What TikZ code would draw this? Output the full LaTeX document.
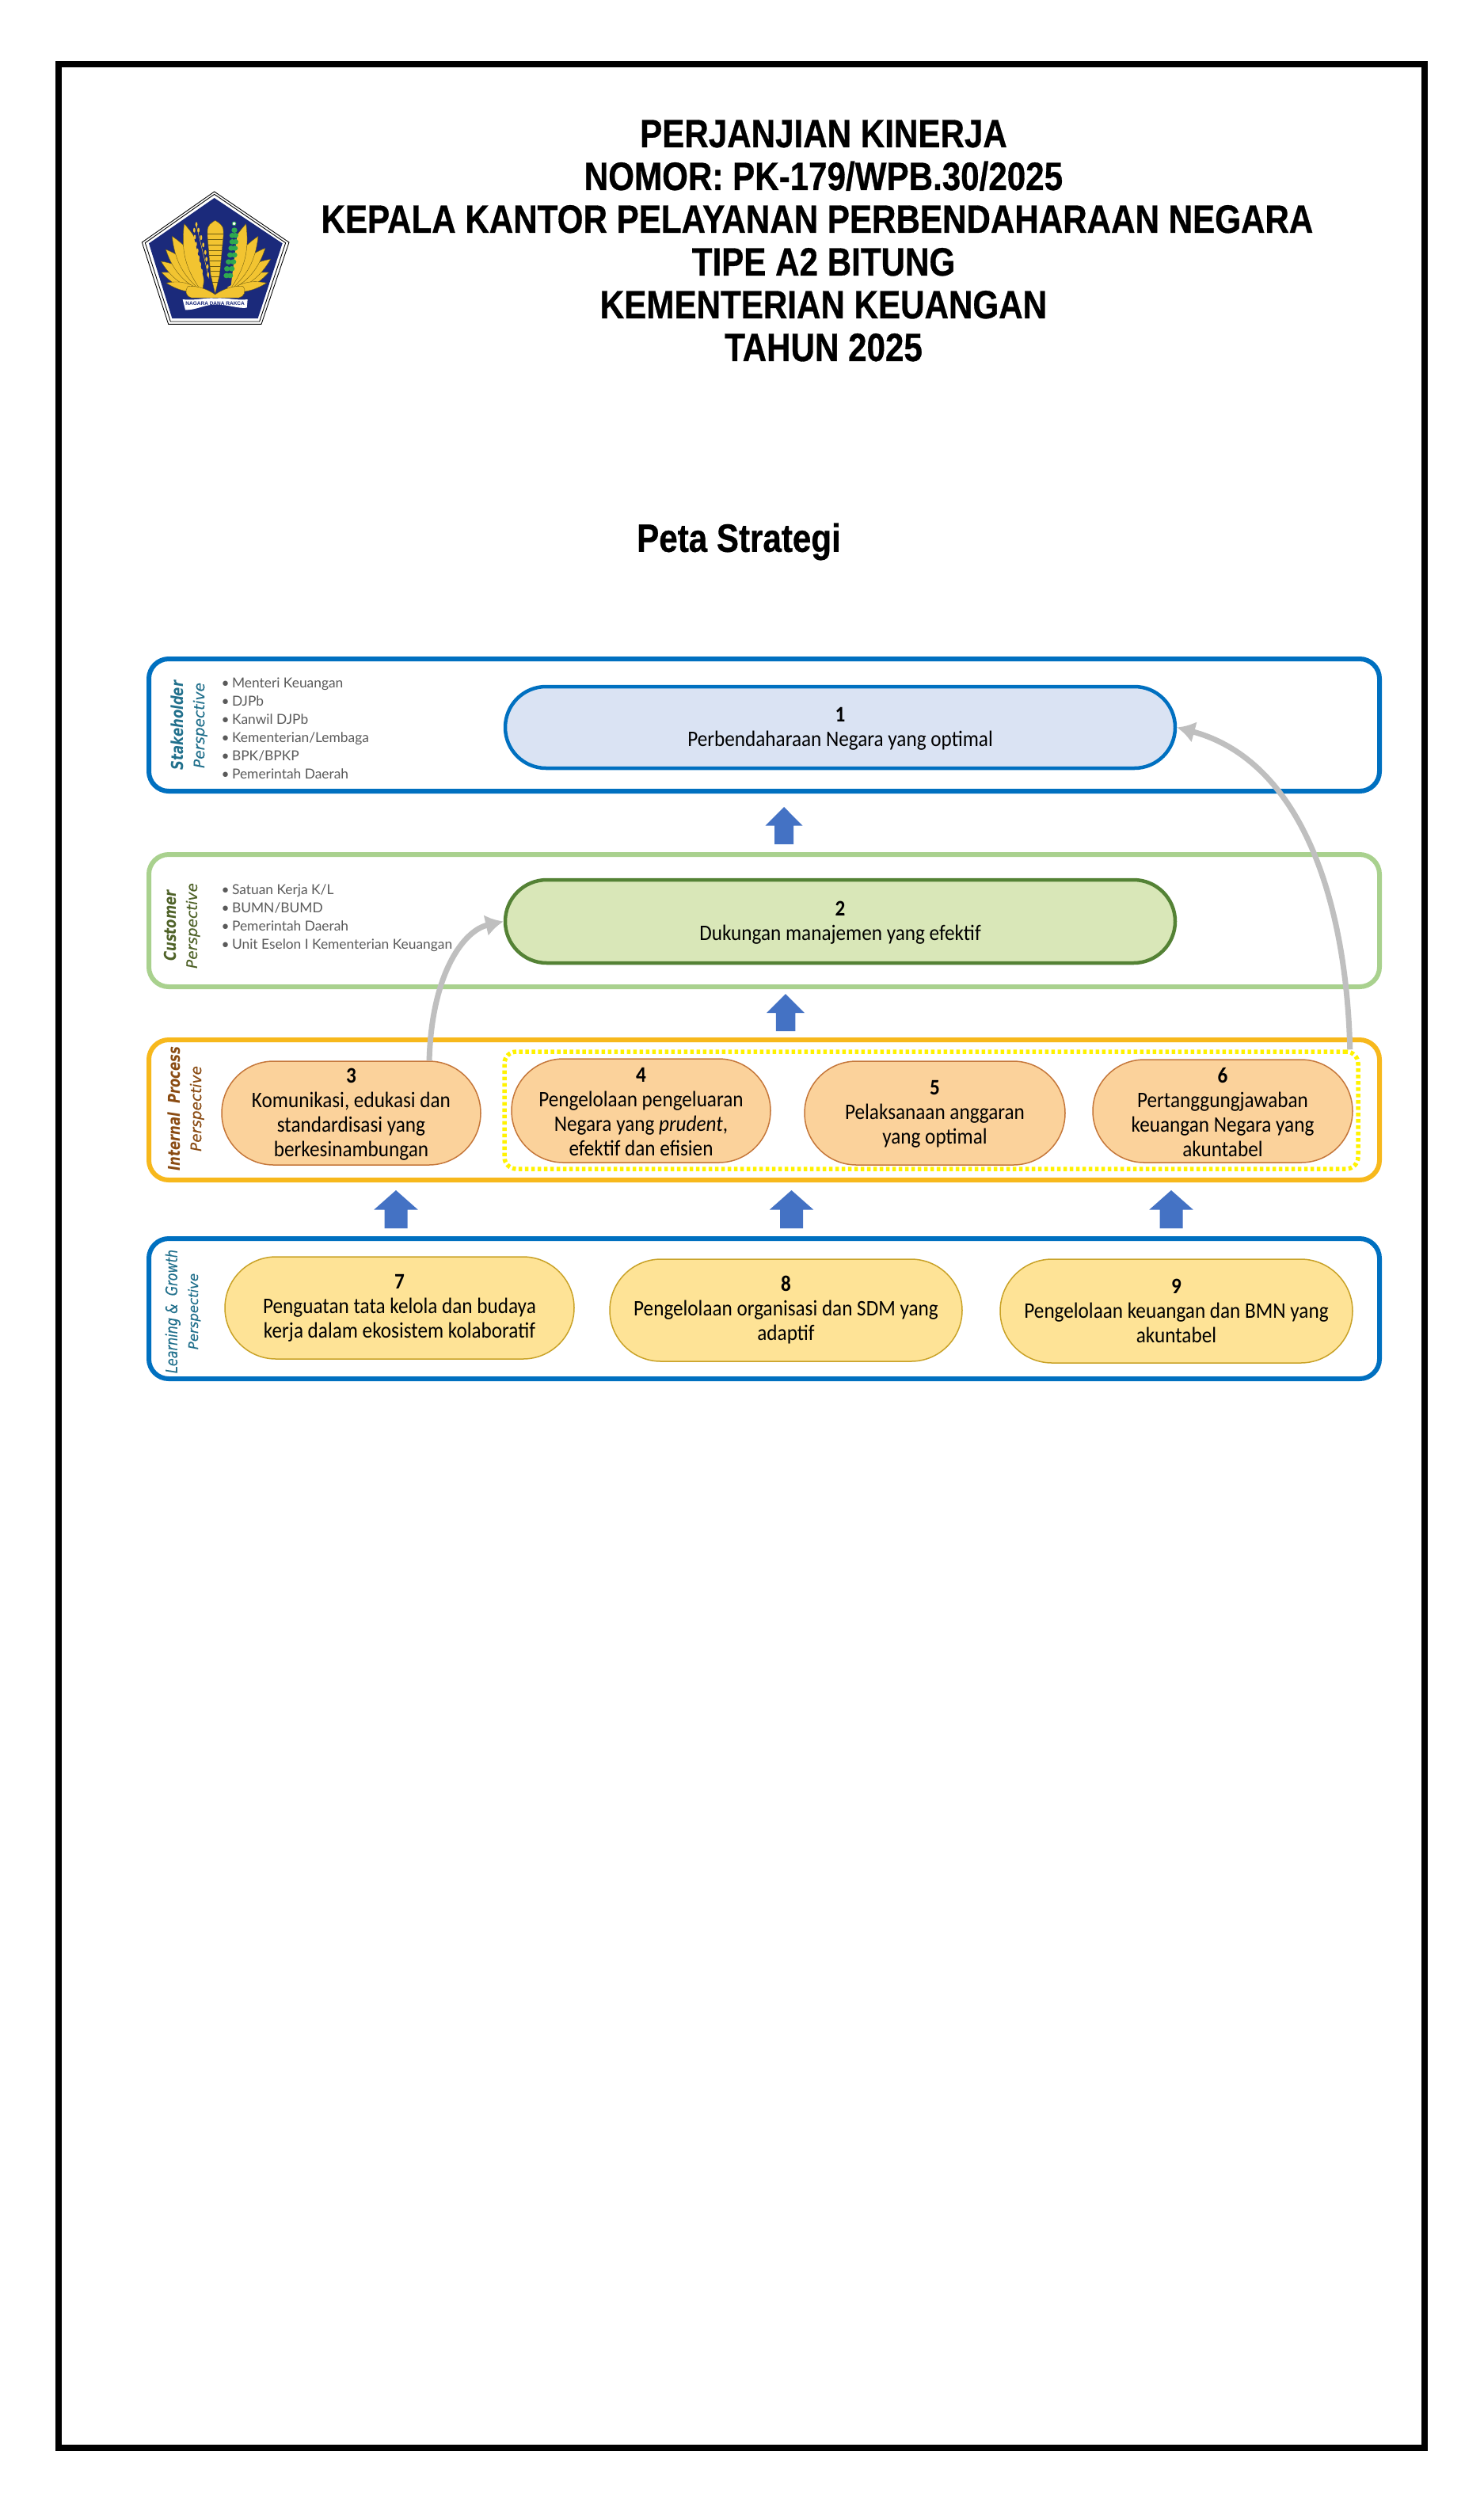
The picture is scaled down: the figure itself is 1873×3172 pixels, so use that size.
\documentclass[tikz,border=0pt]{standalone}
\usepackage{fontspec}
\setmainfont{Liberation Sans}
\newfontfamily\titlefont[FakeStretch=0.843,FakeBold=0.6]{Liberation Sans Bold}
\newfontfamily\pillfont[FakeStretch=0.9]{Carlito}
\newfontfamily\listfont{Lato}
\newfontfamily\sidefont{DejaVu Sans}
\newfontfamily\sidesemi[FakeBold=0.3]{DejaVu Sans}
\usetikzlibrary{calc,arrows.meta,shapes.arrows}
\definecolor{bandblue}{HTML}{0070C0}
\definecolor{bandgreen}{HTML}{A9D18E}
\definecolor{bandgold}{HTML}{F7B81C}
\definecolor{fillone}{HTML}{DAE3F3}
\definecolor{filltwo}{HTML}{D9E7B8}
\definecolor{strokefour}{HTML}{548235}
\definecolor{fillorange}{HTML}{FBD29B}
\definecolor{strokeorange}{HTML}{C5773A}
\definecolor{fillyellow}{HTML}{FEE396}
\definecolor{strokeyellow}{HTML}{C9A227}
\definecolor{arrowblue}{HTML}{4472C4}
\definecolor{arrowgrey}{HTML}{BFBFBF}
\definecolor{navy}{HTML}{1B2A7B}
\definecolor{logogold}{HTML}{F2C431}
\definecolor{logoline}{HTML}{6B5A10}
\definecolor{logogreen}{HTML}{2FA84F}
\definecolor{sideteal}{HTML}{21708C}
\definecolor{sidegreen}{HTML}{4F6228}
\definecolor{sidebrown}{HTML}{8A4B12}
\definecolor{listgrey}{HTML}{5A5A5A}
\tikzset{
  band/.style={rectangle,rounded corners=10pt,line width=2.4pt,fill=none,inner sep=0pt},
  pill/.style={rectangle,align=center,inner sep=0pt,font=\pillfont\fontsize{11.2pt}{12.4pt}\selectfont,text=black},
  pillone/.style={pill,draw=bandblue,fill=fillone,line width=1.8pt},
  pilltwo/.style={pill,draw=strokefour,fill=filltwo,line width=1.8pt},
  pillthree/.style={pill,draw=strokeorange,fill=fillorange,line width=.6pt},
  pillfour/.style={pill,draw=strokeyellow,fill=fillyellow,line width=.6pt},
  grpframe/.style={rectangle,draw=yellow,line width=2.2pt,rounded corners=6pt,dash pattern=on 1.8pt off 1.4pt,inner sep=0pt},
  upblock/.style={single arrow,rotate=90,anchor=tail,fill=arrowblue,draw=none,inner sep=0pt,outer sep=0pt},
  greyconn/.style={draw=arrowgrey,line width=2.8pt,-{Latex[length=9pt,width=11pt]}},
  sidelabel/.style={rotate=90,align=center,inner sep=0pt},
  listlabel/.style={anchor=west,align=left,inner sep=0pt,text=listgrey,font=\listfont\fontsize{6.95pt}{9.2pt}\selectfont},
  titlelabel/.style={align=center,inner sep=0pt,font=\titlefont\fontsize{20pt}{21.6pt}\selectfont}
}
% box node from pixel extents: style, name, x1, y1, x2, y2, text
\newcommand{\boxnode}[7]{%
  \pgfmathsetmacro\bxw{(#5-#3)*0.4}%
  \pgfmathsetmacro\bxh{(#6-#4)*0.4}%
  \pgfmathsetmacro\bxcx{(#3+#5)/2}%
  \pgfmathsetmacro\bxcy{(#4+#6)/2}%
  \node[#1,minimum width=\bxw pt,minimum height=\bxh pt] (#2) at (\bxcx,\bxcy) {#7};}
\newcommand{\pillnode}[7]{%
  \pgfmathsetmacro\bxr{(#6-#4)*0.2}%
  \boxnode{#1,rounded corners=\bxr pt}{#2}{#3}{#4}{#5}{#6}{#7}}
\newcommand{\lineA}[1]{\scalebox{1}[1.25]{\sidefont\fontsize{6.6pt}{9.2pt}\selectfont\bfseries\itshape #1}}
\newcommand{\lineB}[1]{\sidesemi\fontsize{7.4pt}{9.2pt}\selectfont\itshape #1}
\newcommand{\lineC}[1]{\scalebox{1}[1.25]{\sidesemi\fontsize{6.4pt}{8.4pt}\selectfont\itshape #1}}
\newcommand{\bul}{•\hspace{0.2em}}
\newcommand{\dgd}[1]{\rule{0pt}{8.7pt}\textbf{#1}}
\begin{document}
\begin{tikzpicture}[x=0.4pt,y=-0.4pt]
\useasboundingbox (0,0) rectangle (1873,3172);
\fill[white] (0,0) rectangle (1873,3172);
\coordinate (frameA) at (74,81);
\coordinate (frameB) at (1799,3091);
\draw[black,line width=3.2pt] (frameA) rectangle (frameB);

% title
\node[titlelabel] (title) at (1040,304) {PERJANJIAN KINERJA\\NOMOR: PK-179/WPB.30/2025\\KEPALA KANTOR PELAYANAN PERBENDAHARAAN NEGARA\kern6.4pt\mbox{}\\TIPE A2 BITUNG\\KEMENTERIAN KEUANGAN\\TAHUN 2025};
\node[titlelabel] (peta) at (933,684) {Peta Strategi};

% logo
\begin{scope}[shift={(64pt,-88pt)},x=0.13333pt,y=-0.13333pt]
  \filldraw[fill=white,draw=black,line width=.35pt] (332,66)--(615,258)--(510,568)--(158,568)--(58,258)--cycle;
  \draw[black,line width=.35pt] (332,76)--(602,260)--(503,558)--(166,558)--(70,260)--cycle;
  \fill[navy] (332,90)--(590,262)--(497,546)--(172,546)--(84,262)--cycle;
  \foreach \tx/\ty in {132/372,130/330,148/285,172/235,218/188}{
    \filldraw[fill=logogold,draw=logoline,line width=.15pt] (285,445) to[bend left=22] (\tx,\ty) to[bend left=28] (285,445);}
  \filldraw[fill=logogold,draw=logoline,line width=.15pt] (285,445) to[bend left=18] (150,412) to[bend left=25] (285,445);
  \foreach \tx/\ty in {538/372,545/322,525/280,498/235,452/188}{
    \filldraw[fill=logogold,draw=logoline,line width=.15pt] (385,445) to[bend right=22] (\tx,\ty) to[bend right=28] (385,445);}
  \filldraw[fill=logogold,draw=logoline,line width=.15pt] (385,445) to[bend right=18] (530,412) to[bend right=25] (385,445);
  \fill[navy] (240,175)--(325,175)--(335,450)--(300,430)--cycle;
  \fill[navy] (372,185)--(425,175)--(395,420)--(340,450)--cycle;
  % rice
  \draw[logogold,line width=.2pt] (262,185)--(312,395);
  \foreach \ex/\ey in {264/190,256/212,272/212,258/238,282/240,262/265,290/268,268/290,298/296,272/316,302/322,278/342,306/350,284/368,308/380}{
    \fill[logogold] (\ex,\ey) ellipse [x radius=4,y radius=9];}
  % cotton
  \foreach \ex/\ey in {408/212,400/232,412/232,400/256,412/256,396/280,410/280,392/306,408/306,386/332,404/332,380/358,398/358,378/384,392/384}{
    \fill[logogreen] (\ex,\ey) ellipse [x radius=11,y radius=10];}
  \filldraw[fill=white,draw=logogreen,line width=.3pt] (407,187) circle (7);
  % column
  \filldraw[fill=logogold,draw=logoline,line width=.15pt] (335,175) .. controls (320,185) and (306,192) .. (306,215) -- (306,235) -- (318,380) -- (335,452) -- (352,380) -- (366,235) -- (366,215) .. controls (366,192) and (350,185) .. (335,175) -- cycle;
  \foreach \ly/\lh in {225/30,248/29,268/27,288/26,308/25,328/23,348/21,368/18,388/15,408/10}{
    \draw[logoline,line width=.2pt] ({335-\lh},\ly)--({335+\lh},\ly);}
  % base curls
  \filldraw[fill=logogold,draw=logoline,line width=.15pt] (232,425) .. controls (250,420) and (300,430) .. (335,456) .. controls (370,430) and (420,420) .. (440,425) .. controls (455,440) and (445,465) .. (425,468) -- (245,468) .. controls (225,465) and (218,440) .. (232,425) -- cycle;
  % ribbon
  \fill[white] (212,474) .. controls (260,480) and (300,466) .. (335,470) .. controls (380,466) and (420,480) .. (458,474) -- (455,506) .. controls (420,510) and (380,492) .. (335,494) .. controls (300,492) and (260,516) .. (222,514) -- cycle;
  \node[inner sep=0pt,text=navy,font=\fontsize{2.6pt}{3pt}\selectfont\bfseries] (motto) at (335,489) {NAGARA DANA RAKCA};
\end{scope}

% bands
\boxnode{band,draw=bandblue}{bA}{188}{832}{1742}{999}{}
\boxnode{band,draw=bandgreen}{bB}{188}{1079}{1742}{1246}{}
\boxnode{band,draw=bandgold}{bC}{188}{1313}{1742}{1490}{}
\boxnode{band,draw=bandblue}{bD}{188}{1564}{1742}{1741}{}

% side labels
\node[sidelabel,text=sideteal] (sideA) at (239,916) {\lineA{Stakeholder}\\[-1.5pt]\lineB{Perspective}};
\node[sidelabel,text=sidegreen] (sideB) at (230,1169) {\lineA{Customer}\\[-1.5pt]\lineB{Perspective}};
\node[sidelabel,text=sidebrown] (sideC) at (235,1400) {\lineA{Internal\ \ Process}\\[-1.5pt]\lineB{Perspective}};
\node[sidelabel,text=sideteal] (sideD) at (231,1656) {\lineC{Learning \&\ \ Growth}\\[-1.5pt]\sidesemi\fontsize{6.6pt}{8.4pt}\selectfont\itshape Perspective};

% lists
\node[listlabel] (listA) at (279,920) {\bul Menteri Keuangan\\\bul DJPb\\\bul Kanwil DJPb\\\bul Kementerian/Lembaga\\\bul BPK/BPKP\\\bul Pemerintah Daerah};
\node[listlabel] (listB) at (279,1159) {\bul Satuan Kerja K/L\\\bul BUMN/BUMD\\\bul Pemerintah Daerah\\\bul Unit Eselon I Kementerian Keuangan};

% objectives
\pillnode{pillone}{nA}{638}{867}{1484}{970}{\dgd{1}\\Perbendaharaan Negara yang optimal}
\pillnode{pilltwo}{nB}{638}{1111}{1484}{1216}{\dgd{2}\\Dukungan manajemen yang efektif}
\boxnode{grpframe}{grp}{637}{1328}{1715}{1476}{}
\pillnode{pillthree}{nC}{280}{1340}{607}{1471}{\dgd{3}\\Komunikasi, edukasi dan\\standardisasi yang\\berkesinambungan}
\pillnode{pillthree}{nD}{646}{1337}{973}{1468}{\dgd{4}\\Pengelolaan pengeluaran\\Negara yang \textit{prudent},\\efektif dan efisien}
\pillnode{pillthree}{nE}{1016}{1340}{1345}{1471}{\dgd{5}\\Pelaksanaan anggaran\\yang optimal}
\pillnode{pillthree}{nF}{1380}{1338}{1708}{1468}{\dgd{6}\\Pertanggungjawaban\\keuangan Negara yang\\akuntabel}
\pillnode{pillfour}{nG}{284}{1587}{725}{1716}{\textbf{7}\\Penguatan tata kelola dan budaya\\kerja dalam ekosistem kolaboratif}
\pillnode{pillfour}{nH}{770}{1590}{1215}{1719}{\textbf{8}\\Pengelolaan organisasi dan SDM yang\\adaptif}
\pillnode{pillfour}{nI}{1263}{1590}{1708}{1721}{\textbf{9}\\Pengelolaan keuangan dan BMN yang\\akuntabel}

% block arrows
\node[upblock,minimum height=18.8pt,minimum width=18.4pt,single arrow tip angle=90,single arrow head extend=4.6pt] (upA) at (990,1066) {\rule{0pt}{9.2pt}};
\node[upblock,minimum height=18.8pt,minimum width=18.8pt,single arrow tip angle=90,single arrow head extend=4.7pt] (upB) at (992,1302) {\rule{0pt}{9.4pt}};
\node[upblock,minimum height=19.2pt,minimum width=21.8pt,single arrow tip angle=97,single arrow head extend=5.3pt] (upC) at (500,1551) {\rule{0pt}{11.2pt}};
\node[upblock,minimum height=19.2pt,minimum width=21.8pt,single arrow tip angle=97,single arrow head extend=5.3pt] (upD) at (999.5,1551) {\rule{0pt}{11.2pt}};
\node[upblock,minimum height=19.2pt,minimum width=21.8pt,single arrow tip angle=97,single arrow head extend=5.3pt] (upE) at (1479,1551) {\rule{0pt}{11.2pt}};

% grey connectors
\draw[greyconn] ($(nC.north west)!0.8!(nC.north east)$) .. controls (545,1230) and (585,1175) .. (nB.west);
\draw[greyconn] ($(grp.north west)!0.988!(grp.north east)$) .. controls (1700,1130) and (1640,960) .. (nA.east);
\end{tikzpicture}
\end{document}
